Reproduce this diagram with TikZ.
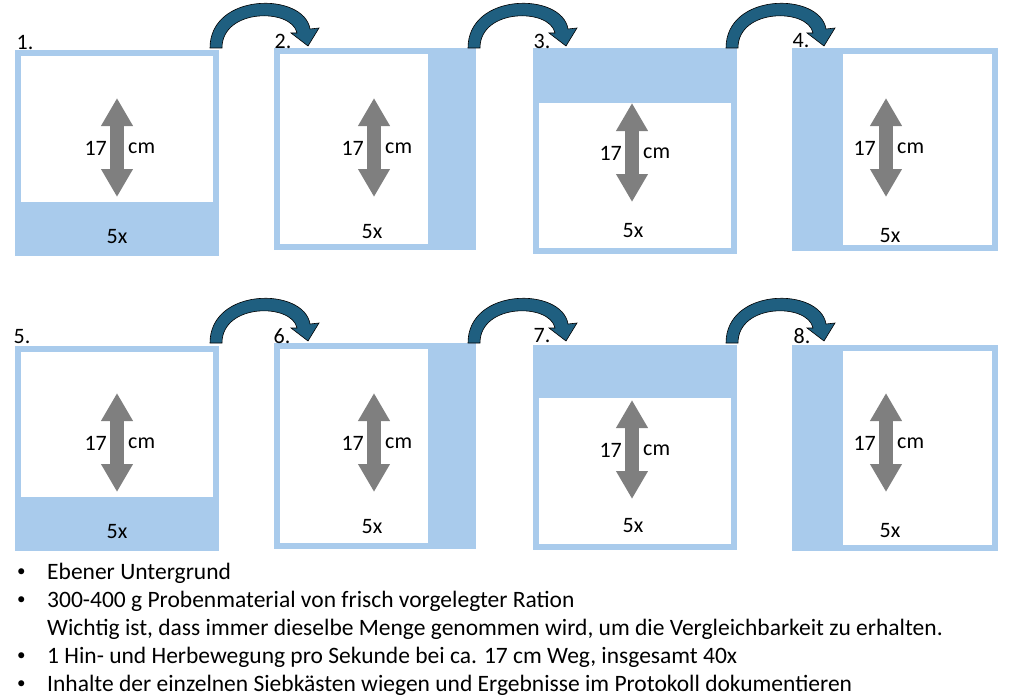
\documentclass[tikz,border=0pt]{standalone}
\usepackage{fontspec}
\setmainfont{Carlito}
\usetikzlibrary{arrows.meta}
\definecolor{sieb}{HTML}{A9CBEC}
\definecolor{bogen}{HTML}{1F5F80}
\definecolor{hub}{HTML}{7F7F7F}
\tikzset{
  kasten/.style={draw=sieb,line width=6pt},
  belag/.style={fill=sieb},
  hubpfeil/.style={draw=hub,line width=14pt,{Triangle[width=30pt,length=28pt]}-{Triangle[width=30pt,length=28pt]}},
  txt/.style={font=\fontsize{22}{26}\selectfont,inner sep=0pt},
  liste/.style={font=\fontsize{23.5}{28}\selectfont,inner sep=0pt,anchor=west},
  nr/.style={font=\fontsize{22}{26}\selectfont,inner sep=0pt}
}
% curved arrow from box to box, #1 = x shift, #2 = y shift
\newcommand{\wender}[2]{
  \fill[bogen,draw=black,line width=0.6pt,shift={(#1,#2)}]
    (222,48) .. controls (222,8) and (292,8) .. (297,33) -- (291,33) -- (308,46) -- (319,28) -- (310,29)
    .. controls (304,-8) and (210,-8) .. (210,48) -- cycle;
}
\begin{document}
\begin{tikzpicture}[x=1pt,y=-1pt]
  \useasboundingbox (0,0) rectangle (1024,698);

  % row 1
  \fill[belag] (15,202) rectangle (219,256);
  \draw[kasten] (18,53) rectangle (216,253);
  \fill[belag] (428,48) rectangle (476,250);
  \draw[kasten] (277,51) rectangle (473,247);
  \fill[belag] (533,48) rectangle (737,103);
  \draw[kasten] (536,51) rectangle (734,251);
  \fill[belag] (792,48) rectangle (843,251);
  \draw[kasten] (795,51) rectangle (995,248);

  % row 2
  \fill[belag] (15,497) rectangle (219,551);
  \draw[kasten] (18,349) rectangle (216,548);
  \fill[belag] (428,343) rectangle (476,549);
  \draw[kasten] (277,346) rectangle (473,546);
  \fill[belag] (533,345) rectangle (737,398);
  \draw[kasten] (536,348) rectangle (734,547);
  \fill[belag] (792,345) rectangle (843,551);
  \draw[kasten] (795,348) rectangle (995,548);

  % numbers
  \node[nr] (n1) at (25,43) {1.};
  \node[nr] (n2) at (283,41) {2.};
  \node[nr] (n3) at (542,41) {3.};
  \node[nr] (n4) at (801,41) {4.};
  \node[nr] (n5) at (22,337) {5.};
  \node[nr] (n6) at (282,336) {6.};
  \node[nr] (n7) at (542,336) {7.};
  \node[nr] (n8) at (802,336) {8.};

  % stroke arrows and labels
  \foreach \name/\cx/\ty/\fx/\fy in {a/117/98/117/237, b/374/98/372/232, c/632/103/633/231, d/886/98/890/236,
                                     e/117/393/117/532, f/374/393/372/527, g/632/400/633/526, h/886/393/890/531}{
    \coordinate (\name top) at (\cx,\ty);
    \coordinate (\name bot) at (\cx,\ty+99);
    \draw[hubpfeil] (\name top) -- (\name bot);
    \node[txt,anchor=east] (\name l) at (\cx-10,\ty+50) {17};
    \node[txt,anchor=west] (\name r) at (\cx+11,\ty+50) {cm};
    \node[txt] (\name x) at (\fx,\fy) {5x};
  }

  % curved arrows
  \wender{0}{0}
  \wender{258}{0}
  \wender{516}{0}
  \wender{0}{295}
  \wender{258}{295}
  \wender{516}{295}

  % notes
  \foreach \y/\name in {573/p1, 601/p2, 657/p3, 685/p4}
    \node[liste,font=\fontsize{17}{20}\selectfont] (\name) at (17,\y) {•};
  \node[liste] (t1) at (47,573) {Ebener Untergrund};
  \node[liste] (t2) at (47,601) {300-400 g Probenmaterial von frisch vorgelegter Ration};
  \node[liste] (t2b) at (47,629) {Wichtig ist, dass immer dieselbe Menge genommen wird, um die Vergleichbarkeit zu erhalten.};
  \node[liste] (t3) at (47,657) {1 Hin- und Herbewegung pro Sekunde bei ca. 17 cm Weg, insgesamt 40x};
  \node[liste] (t4) at (47,685) {Inhalte der einzelnen Siebkästen wiegen und Ergebnisse im Protokoll dokumentieren};
\end{tikzpicture}
\end{document}
